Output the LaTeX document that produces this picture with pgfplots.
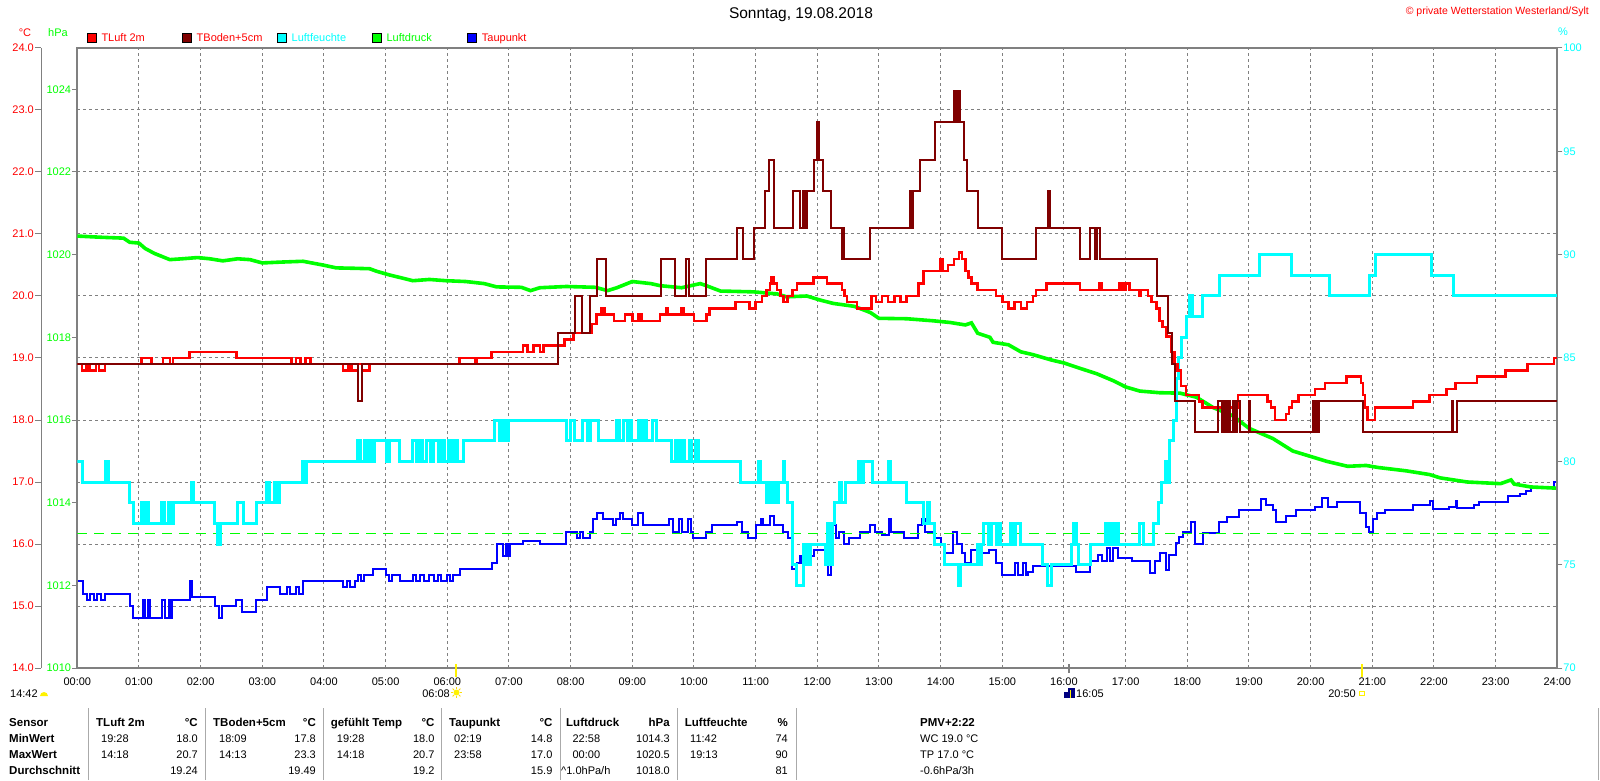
\documentclass[border=0pt]{standalone}
\usepackage{fontspec}
\setmainfont{Liberation Sans}
\usepackage{pgfplots}
\pgfplotsset{compat=1.18}
\definecolor{cred}{RGB}{255,0,0}
\definecolor{cdred}{RGB}{128,0,0}
\definecolor{ccyan}{RGB}{0,255,255}
\definecolor{cgreen}{RGB}{0,255,0}
\definecolor{cblue}{RGB}{0,0,255}
\definecolor{cgrid}{RGB}{128,128,128}
\definecolor{csep}{RGB}{170,170,170}
\newcommand\fs{\fontsize{11}{13}\selectfont}
\newcommand\fb{\fontsize{11.5}{13}\selectfont\bfseries}
\pgfplotsset{
  base/.style={scale only axis, width=1480pt, height=620pt, at={(77.3pt,112pt)}, anchor=south west,
    xmin=0, xmax=24, /pgf/number format/assume math mode=true, clip=true},
}
\begin{document}
\begin{tikzpicture}[x=1pt,y=1pt]
\useasboundingbox (0,0) rectangle (1600,780);
\fill[white] (0,0) rectangle (1600,780);

% degree C label axis
\begin{axis}[base, at={(41pt,112pt)}, width=1516pt, ymin=14, ymax=24,
  axis x line=none, axis y line*=left,
  every outer y axis line/.append style={-}, every inner y axis line/.append style={-},
  y axis line style={cgrid, line width=1pt, -},
  ytick={14,...,24}, tick align=outside, major tick length=6pt,
  tick style={cgrid, line width=1pt},
  yticklabel style={text=cred, font=\fs, anchor=east, inner sep=0pt, xshift=-1pt},
  yticklabel={\pgfmathprintnumber[fixed,fixed zerofill,precision=1]{\tick}}]
\addplot[draw=none] coordinates {(0,14)};
\end{axis}

% main axis: frame, grid, x labels, dew point
\begin{axis}[base, ymin=14, ymax=24,
  axis line style={cgrid, line width=2pt},
  xtick={0,...,24}, ytick={14,...,24}, yticklabels={},
  xticklabels={00:00,01:00,02:00,03:00,04:00,05:00,06:00,07:00,08:00,09:00,10:00,11:00,12:00,13:00,14:00,15:00,16:00,17:00,18:00,19:00,20:00,21:00,22:00,23:00,24:00},
  xticklabel style={font=\fs, anchor=north, inner sep=0pt, yshift=-10pt},
  major tick length=0pt,
  grid=major, grid style={cgrid, dash pattern=on 3pt off 3pt, line width=1pt}]
\addplot[const plot, cblue, line width=2pt] coordinates {
(0,15.4)(0.1,15.2)(0.15,15.1)(0.2,15.2)(0.27,15.1)(0.32,15.2)(0.38,15.1)(0.45,15.2)(0.85,15.0)(0.91,14.8)(1.07,15.1)(1.1,14.8)(1.15,15.1)(1.18,14.8)(1.37,15.1)(1.42,14.8)(1.48,15.1)(1.51,14.8)(1.53,15.1)(1.83,15.4)(1.86,15.15)(2.23,15.0)(2.3,14.8)(2.34,15.0)(2.58,15.1)(2.67,14.9)(2.9,15.1)(3.07,15.3)(3.28,15.2)(3.4,15.3)(3.45,15.2)(3.55,15.3)(3.6,15.2)(3.66,15.4)(4.31,15.3)(4.38,15.4)(4.42,15.3)(4.5,15.4)(4.55,15.5)(4.6,15.4)(4.65,15.5)(4.8,15.6)(5.01,15.5)(5.05,15.4)(5.1,15.5)(5.23,15.4)(5.44,15.5)(5.5,15.4)(5.56,15.5)(5.62,15.4)(5.7,15.5)(5.78,15.4)(5.85,15.5)(5.9,15.4)(6.0,15.5)(6.05,15.4)(6.1,15.5)(6.2,15.6)(6.72,15.7)(6.8,16.0)(6.9,15.8)(6.95,16.0)(6.98,15.8)(7.02,16.0)(7.23,16.05)(7.5,16.0)(7.93,16.2)(8.1,16.1)(8.15,16.2)(8.2,16.1)(8.32,16.2)(8.37,16.4)(8.42,16.5)(8.53,16.4)(8.69,16.3)(8.74,16.4)(8.8,16.5)(8.85,16.4)(9.0,16.3)(9.1,16.5)(9.18,16.3)(9.6,16.4)(9.66,16.2)(9.75,16.4)(9.8,16.2)(9.9,16.4)(9.95,16.2)(9.99,16.1)(10.2,16.2)(10.3,16.3)(10.7,16.35)(10.78,16.2)(10.88,16.1)(11.0,16.3)(11.08,16.4)(11.12,16.3)(11.24,16.45)(11.3,16.3)(11.45,16.2)(11.53,16.1)(11.59,15.6)(11.67,15.7)(11.72,15.8)(11.75,15.7)(11.83,15.8)(11.95,15.9)(12.13,15.7)(12.18,15.5)(12.22,15.7)(12.26,16.3)(12.3,16.1)(12.35,16.2)(12.43,16.0)(12.52,16.1)(12.7,16.2)(12.86,16.3)(12.94,16.2)(13.05,16.15)(13.16,16.4)(13.19,16.2)(13.4,16.1)(13.64,16.3)(13.7,16.4)(13.75,16.2)(13.9,16.1)(14.0,16.0)(14.07,15.85)(14.2,16.2)(14.26,16.0)(14.35,15.85)(14.4,15.7)(14.5,15.9)(14.61,15.85)(14.78,15.9)(14.9,15.7)(15.0,15.5)(15.2,15.7)(15.26,15.5)(15.34,15.7)(15.38,15.5)(15.42,15.55)(15.5,15.65)(16.2,15.55)(16.43,15.73)(16.56,15.82)(16.62,15.73)(16.7,15.93)(16.75,15.73)(16.8,15.93)(16.87,15.77)(17.1,15.73)(17.39,15.54)(17.47,15.73)(17.55,15.85)(17.66,15.58)(17.71,15.82)(17.82,16.02)(17.87,16.12)(17.93,16.2)(18.06,16.36)(18.12,16.0)(18.25,16.18)(18.52,16.36)(18.65,16.44)(18.84,16.55)(19.2,16.72)(19.28,16.63)(19.39,16.55)(19.44,16.35)(19.6,16.45)(19.77,16.55)(20.07,16.6)(20.18,16.74)(20.28,16.6)(20.42,16.67)(20.8,16.5)(20.9,16.28)(20.95,16.2)(21.01,16.4)(21.07,16.5)(21.2,16.55)(21.66,16.63)(21.93,16.7)(21.98,16.56)(22.24,16.6)(22.35,16.7)(22.38,16.58)(22.65,16.63)(22.73,16.68)(23.2,16.77)(23.4,16.8)(23.5,16.85)(23.57,16.9)(23.95,17.0)(24,17.0)};
\end{axis}

% pressure axis
\begin{axis}[base, ymin=1010, ymax=1025,
  axis x line=none, axis y line*=left,
  every outer y axis line/.append style={-}, every inner y axis line/.append style={-},
  y axis line style={cgrid, line width=2pt, -},
  ytick={1010,1012,...,1024}, tick align=outside, major tick length=5pt,
  tick style={cgrid, line width=1pt},
  yticklabel style={text=cgreen, font=\fs, anchor=east, inner sep=0pt, xshift=-1pt},
  yticklabel={\pgfmathprintnumber[fixed,precision=0,1000 sep={}]{\tick}}]
\addplot[cgreen, dash pattern=on 10pt off 7pt, line width=1pt] coordinates {(0,1013.25)(24,1013.25)};
\addplot[cgreen, line width=3.6pt] coordinates {
(0,1020.45)(0.4,1020.42)(0.75,1020.4)(0.85,1020.3)(1.0,1020.28)(1.1,1020.15)(1.25,1020.03)(1.5,1019.88)(1.7,1019.9)(1.95,1019.93)(2.15,1019.9)(2.36,1019.85)(2.6,1019.9)(2.8,1019.88)(3.0,1019.8)(3.3,1019.82)(3.66,1019.84)(3.98,1019.75)(4.2,1019.68)(4.5,1019.67)(4.74,1019.66)(4.85,1019.6)(5.06,1019.51)(5.28,1019.43)(5.44,1019.37)(5.71,1019.4)(5.98,1019.37)(6.3,1019.35)(6.6,1019.3)(6.8,1019.22)(7.2,1019.21)(7.35,1019.13)(7.5,1019.2)(7.93,1019.23)(8.4,1019.21)(8.6,1019.13)(8.75,1019.2)(9.0,1019.35)(9.3,1019.3)(9.45,1019.25)(9.8,1019.2)(10.1,1019.3)(10.2,1019.25)(10.43,1019.12)(10.97,1019.1)(11.35,1019.05)(11.5,1018.98)(11.83,1019.0)(12.05,1018.9)(12.26,1018.82)(12.6,1018.75)(12.86,1018.6)(13.0,1018.46)(13.45,1018.45)(13.88,1018.4)(14.15,1018.36)(14.4,1018.3)(14.5,1018.35)(14.6,1018.1)(14.8,1018.0)(14.85,1017.88)(15.1,1017.82)(15.3,1017.65)(15.5,1017.58)(15.8,1017.45)(16.0,1017.38)(16.26,1017.25)(16.53,1017.12)(16.8,1016.95)(17.0,1016.8)(17.23,1016.7)(17.55,1016.66)(17.88,1016.65)(18.15,1016.55)(18.42,1016.3)(18.74,1016.1)(19.0,1015.8)(19.39,1015.55)(19.55,1015.4)(19.71,1015.25)(19.93,1015.15)(20.26,1015.0)(20.6,1014.88)(20.9,1014.9)(21.1,1014.85)(21.55,1014.77)(21.93,1014.68)(22.1,1014.6)(22.54,1014.5)(23.08,1014.46)(23.25,1014.55)(23.3,1014.45)(23.57,1014.38)(24,1014.35)};
\end{axis}

% humidity axis
\begin{axis}[base, ymin=70, ymax=100,
  axis x line=none, axis y line*=right,
  every outer y axis line/.append style={-}, every inner y axis line/.append style={-},
  y axis line style={cgrid, line width=2pt, -},
  ytick={70,75,...,100}, tick align=outside, major tick length=5pt,
  tick style={cgrid, line width=1pt},
  yticklabel style={text=ccyan, font=\fs, anchor=west, inner sep=0pt, xshift=1pt},
  yticklabel={\pgfmathprintnumber[fixed,precision=0]{\tick}}]
\addplot[const plot, ccyan, line width=3pt] coordinates {
(0,80)(0.08,79)(0.45,80)(0.5,79)(0.85,78)(0.91,77)(1.04,78)(1.07,77)(1.12,78)(1.15,77)(1.37,78)(1.42,77)(1.48,78)(1.53,77)(1.56,78)(1.85,79)(1.88,78)(2.23,77)(2.28,76)(2.32,77)(2.6,78)(2.69,77)(2.9,78)(3.07,79)(3.12,78)(3.2,79)(3.24,78)(3.28,79)(3.66,80)(3.69,79)(3.72,80)(4.55,81)(4.6,80)(4.65,81)(4.7,80)(4.75,81)(4.8,80)(4.82,81)(5.01,80)(5.06,81)(5.23,80)(5.44,81)(5.5,80)(5.55,81)(5.6,80)(5.66,81)(5.72,80)(5.78,81)(5.85,80)(5.9,81)(5.95,80)(6.02,81)(6.07,80)(6.12,81)(6.17,80)(6.26,81)(6.77,82)(6.84,81)(6.9,82)(6.95,81)(7.0,82)(7.93,81)(8.0,82)(8.06,81)(8.2,82)(8.28,81)(8.33,82)(8.45,81)(8.74,82)(8.8,81)(8.85,82)(8.92,81)(8.96,82)(8.99,81)(9.1,82)(9.14,81)(9.18,82)(9.23,81)(9.33,82)(9.39,81)(9.64,80)(9.7,81)(9.75,80)(9.8,81)(9.85,80)(9.92,81)(9.96,80)(10.02,81)(10.08,80)(10.75,79)(11.05,80)(11.08,79)(11.18,78)(11.23,79)(11.27,78)(11.31,79)(11.34,78)(11.37,79)(11.45,80)(11.47,79)(11.52,78)(11.6,75)(11.66,74)(11.78,76)(11.8,75)(11.84,76)(11.86,75)(11.89,76)(12.13,75)(12.17,77)(12.2,75)(12.24,77)(12.28,78)(12.36,79)(12.39,78)(12.45,79)(12.67,80)(12.72,79)(12.75,80)(12.9,79)(13.15,80)(13.18,79)(13.45,78)(13.73,77)(13.78,78)(13.82,77)(13.9,76)(14.07,75)(14.29,74)(14.33,75)(14.59,76)(14.62,75)(14.66,76)(14.7,77)(14.78,76)(14.82,77)(14.9,76)(14.92,77)(14.97,76)(15.13,77)(15.18,76)(15.22,77)(15.3,76)(15.65,75)(15.73,74)(15.8,75)(16.13,76)(16.16,77)(16.2,76)(16.24,75)(16.43,76)(16.67,77)(16.7,76)(16.75,77)(16.8,76)(16.83,77)(16.88,76)(17.23,77)(17.29,76)(17.45,77)(17.53,78)(17.58,79)(17.64,80)(17.67,79)(17.71,81)(17.77,82)(17.82,84)(17.86,85)(17.9,86)(17.98,87)(18.04,88)(18.09,87)(18.25,88)(18.52,89)(19.17,90)(19.69,89)(20.3,88)(20.95,89)(21.06,90)(21.96,89)(22.31,88)(24,88)};
\end{axis}

% temperatures overlay
\begin{axis}[base, ymin=14, ymax=24, hide axis]
\addplot[const plot, cred, line width=2.5pt] coordinates {
(0,18.9)(0.08,18.8)(0.15,18.9)(0.2,18.8)(0.3,18.9)(0.35,18.8)(0.45,18.9)(1.04,19.0)(1.2,18.9)(1.39,19.0)(1.5,18.9)(1.55,19.0)(1.82,19.1)(2.58,19.0)(3.47,18.9)(3.55,19.0)(3.62,18.9)(3.7,19.0)(3.78,18.9)(4.31,18.8)(4.4,18.9)(4.45,18.8)(4.55,18.9)(4.62,18.8)(4.74,18.9)(6.2,19.0)(6.45,18.9)(6.48,19.0)(6.72,19.1)(7.23,19.2)(7.3,19.1)(7.4,19.2)(7.5,19.1)(7.56,19.2)(7.9,19.3)(8.05,19.4)(8.34,19.55)(8.42,19.7)(8.5,19.8)(8.55,19.7)(8.7,19.6)(8.88,19.7)(9.0,19.6)(9.1,19.7)(9.15,19.6)(9.45,19.7)(9.55,19.8)(9.58,19.7)(9.8,19.8)(9.83,19.7)(10.0,19.6)(10.2,19.7)(10.25,19.8)(10.67,19.9)(10.9,19.8)(11.0,19.9)(11.1,20.0)(11.18,20.1)(11.23,20.2)(11.26,20.3)(11.3,20.2)(11.35,20.1)(11.4,20.0)(11.45,19.9)(11.52,20.0)(11.6,20.1)(11.67,20.2)(11.94,20.3)(12.16,20.2)(12.4,20.1)(12.44,20.0)(12.48,19.9)(12.64,19.8)(12.88,20.0)(12.95,19.9)(13.05,20.0)(13.15,19.9)(13.25,20.0)(13.35,19.9)(13.45,20.0)(13.64,20.2)(13.72,20.4)(14.0,20.6)(14.03,20.4)(14.12,20.5)(14.22,20.6)(14.3,20.7)(14.35,20.6)(14.4,20.4)(14.45,20.3)(14.5,20.2)(14.6,20.1)(14.9,20.0)(15.0,19.9)(15.1,19.8)(15.2,19.9)(15.3,19.8)(15.4,19.9)(15.5,20.0)(15.55,20.1)(15.72,20.2)(16.26,20.1)(16.58,20.2)(16.62,20.1)(16.9,20.2)(16.95,20.1)(17.0,20.2)(17.06,20.1)(17.22,20.0)(17.25,20.1)(17.36,20.0)(17.42,19.9)(17.5,19.8)(17.55,19.6)(17.6,19.5)(17.66,19.35)(17.74,19.1)(17.79,18.9)(17.84,18.8)(17.9,18.55)(17.98,18.4)(18.19,18.3)(18.25,18.2)(18.82,18.4)(19.3,18.3)(19.36,18.2)(19.42,18.0)(19.6,18.1)(19.65,18.2)(19.7,18.3)(19.8,18.4)(20.07,18.5)(20.23,18.6)(20.58,18.7)(20.82,18.6)(20.85,18.4)(20.88,18.2)(20.92,18.0)(21.04,18.2)(21.66,18.3)(21.93,18.4)(22.2,18.5)(22.35,18.6)(22.7,18.7)(23.16,18.8)(23.52,18.9)(23.95,19.0)(24,19.0)};
\addplot[const plot, cdred, line width=2pt] coordinates {
(0,18.9)(4.56,18.3)(4.61,18.9)(7.8,19.4)(8.07,20.0)(8.18,19.4)(8.32,20.0)(8.42,20.6)(8.58,20.0)(9.47,20.6)(9.69,20.0)(9.87,20.6)(9.92,20.0)(10.19,20.6)(10.7,21.1)(10.8,20.6)(10.97,21.1)(11.16,21.7)(11.21,22.2)(11.3,21.1)(11.6,21.7)(11.72,21.1)(11.77,21.7)(11.8,21.1)(11.84,21.7)(11.95,22.2)(11.99,22.8)(12.02,22.2)(12.1,21.7)(12.22,21.1)(12.4,20.6)(12.42,21.1)(12.43,20.6)(12.85,21.1)(13.5,21.7)(13.52,21.1)(13.55,21.7)(13.67,22.2)(13.91,22.8)(14.22,23.3)(14.25,22.8)(14.28,23.3)(14.32,22.8)(14.38,22.2)(14.43,21.7)(14.6,21.1)(15.0,20.6)(15.54,21.1)(15.74,21.7)(15.77,21.1)(16.26,20.6)(16.43,21.1)(16.5,20.6)(16.53,21.1)(16.58,20.6)(17.51,20.0)(17.68,19.4)(17.75,18.9)(17.8,18.3)(18.12,17.8)(18.5,18.3)(18.57,17.8)(18.6,18.3)(18.63,17.8)(18.66,18.3)(18.69,17.8)(18.74,18.3)(18.78,17.8)(18.8,18.3)(18.85,17.8)(19.0,18.3)(19.02,17.8)(20.04,18.3)(20.07,17.8)(20.1,18.3)(20.12,17.8)(20.14,18.3)(20.85,17.8)(22.29,18.3)(22.31,17.8)(22.37,18.3)(24,18.3)};
\end{axis}

% title and header texts
\node[font=\fontsize{15.5}{18}\selectfont] at (801,765) {Sonntag, 19.08.2018};
\node[anchor=east, text=cred, font=\fontsize{10.5}{12}\selectfont, inner sep=0pt] at (1589,768) {© private Wetterstation Westerland/Sylt};
\node[text=cred, font=\fs, inner sep=0pt] at (25,747.5) {°C};
\node[text=cgreen, font=\fs, inner sep=0pt] at (58,747.5) {hPa};
\node[text=ccyan, font=\fs, inner sep=0pt] at (1563,748) {\%};

% legend
\foreach \xx/\col/\tcol/\lab in {87.3/cred/cred/TLuft 2m, 182.5/cdred/cred/TBoden+5cm, 277.5/ccyan/ccyan/Luftfeuchte, 372.4/cgreen/cgreen/Luftdruck, 467.7/cblue/cred/Taupunkt}{
  \filldraw[fill=\col, draw=black, line width=1pt] (\xx,737.5) rectangle ++(9,9);
  \node[anchor=base west, inner sep=0pt, text=\tcol, font=\fs] at (\xx+14,738) {\lab};
}

% sunrise/sunset marks
\draw[yellow, line width=2pt] (455.5,103) -- (455.5,116);
\draw[yellow, line width=2pt] (1361.7,103) -- (1361.7,116);
\draw[cgrid, line width=2pt] (1068.8,107) -- (1068.8,116);
\node[anchor=base west, inner sep=0pt, font=\fs] at (10,83) {14:42};
\fill[yellow] (40,84) -- (48,84) arc[start angle=0, end angle=180, radius=4] -- cycle;
\node[anchor=base east, inner sep=0pt, font=\fs] at (450,83) {06:08};
\fill[yellow] (456.5,87.5) circle (3);
\foreach \a in {0,45,...,315} \draw[yellow!80!orange, line width=0.8pt] (456.5,87.5) ++(\a:3.5) -- ++(\a:2);
\fill[blue!50!black] (1064,82) rectangle (1075,92);
\fill[white] (1064,88) rectangle (1068,92);
\draw[yellow, line width=1.5pt] (1070.5,82) -- (1070.5,90);
\node[anchor=base west, inner sep=0pt, font=\fs] at (1076,83) {16:05};
\node[anchor=base east, inner sep=0pt, font=\fs] at (1356,83) {20:50};
\draw[yellow, line width=1pt] (1359.5,84.5) rectangle (1364,89);

% table
\foreach \xx in {88,205.6,323,441,560,677,796,1598} \draw[csep, line width=1pt] (\xx,0) -- (\xx,72);
\begin{scope}[every node/.style={inner sep=0pt}]
\node[anchor=base west, font=\fb] at (9,54) {Sensor};
\node[anchor=base west, font=\fb] at (9,38) {MinWert};
\node[anchor=base west, font=\fb] at (9,22) {MaxWert};
\node[anchor=base west, font=\fb] at (9,6) {Durchschnitt};
% TLuft
\node[anchor=base west, font=\fb] at (96,54) {TLuft 2m};
\node[anchor=base east, font=\fb] at (198,54) {°C};
\node[anchor=base west, font=\fs] at (101,38) {19:28};
\node[anchor=base east, font=\fs] at (198,38) {18.0};
\node[anchor=base west, font=\fs] at (101,22) {14:18};
\node[anchor=base east, font=\fs] at (198,22) {20.7};
\node[anchor=base east, font=\fs] at (198,6) {19.24};
% TBoden
\node[anchor=base west, font=\fb] at (213,54) {TBoden+5cm};
\node[anchor=base east, font=\fb] at (316,54) {°C};
\node[anchor=base west, font=\fs] at (219,38) {18:09};
\node[anchor=base east, font=\fs] at (316,38) {17.8};
\node[anchor=base west, font=\fs] at (219,22) {14:13};
\node[anchor=base east, font=\fs] at (316,22) {23.3};
\node[anchor=base east, font=\fs] at (316,6) {19.49};
% gefuehlt
\node[anchor=base west, font=\fb] at (330.6,54) {gefühlt Temp};
\node[anchor=base east, font=\fb] at (434.7,54) {°C};
\node[anchor=base west, font=\fs] at (336.7,38) {19:28};
\node[anchor=base east, font=\fs] at (434.7,38) {18.0};
\node[anchor=base west, font=\fs] at (336.7,22) {14:18};
\node[anchor=base east, font=\fs] at (434.7,22) {20.7};
\node[anchor=base east, font=\fs] at (434.7,6) {19.2};
% Taupunkt
\node[anchor=base west, font=\fb] at (449,54) {Taupunkt};
\node[anchor=base east, font=\fb] at (552.6,54) {°C};
\node[anchor=base west, font=\fs] at (454,38) {02:19};
\node[anchor=base east, font=\fs] at (552.6,38) {14.8};
\node[anchor=base west, font=\fs] at (454,22) {23:58};
\node[anchor=base east, font=\fs] at (552.6,22) {17.0};
\node[anchor=base east, font=\fs] at (552.6,6) {15.9};
% Luftdruck
\node[anchor=base west, font=\fb] at (566,54) {Luftdruck};
\node[anchor=base east, font=\fb] at (670,54) {hPa};
\node[anchor=base west, font=\fs] at (572.4,38) {22:58};
\node[anchor=base east, font=\fs] at (670,38) {1014.3};
\node[anchor=base west, font=\fs] at (572.4,22) {00:00};
\node[anchor=base east, font=\fs] at (670,22) {1020.5};
\node[anchor=base west, font=\fs] at (561,6) {\textasciicircum 1.0hPa/h};
\node[anchor=base east, font=\fs] at (670,6) {1018.0};
% Luftfeuchte
\node[anchor=base west, font=\fb] at (684.7,54) {Luftfeuchte};
\node[anchor=base east, font=\fb] at (788,54) {\%};
\node[anchor=base west, font=\fs] at (690,38) {11:42};
\node[anchor=base east, font=\fs] at (788,38) {74};
\node[anchor=base west, font=\fs] at (690,22) {19:13};
\node[anchor=base east, font=\fs] at (788,22) {90};
\node[anchor=base east, font=\fs] at (788,6) {81};
% PMV
\node[anchor=base west, font=\fb] at (920,54) {PMV+2:22};
\node[anchor=base west, font=\fs] at (920,38) {WC 19.0 °C};
\node[anchor=base west, font=\fs] at (920,22) {TP 17.0 °C};
\node[anchor=base west, font=\fs] at (920,6) {-0.6hPa/3h};
\end{scope}
\end{tikzpicture}
\end{document}
